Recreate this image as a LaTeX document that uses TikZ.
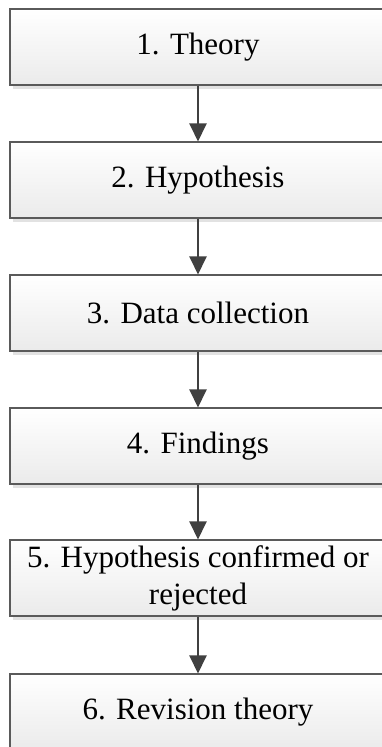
\documentclass[tikz,border=0pt]{standalone}
\usepackage{fontspec}
\setmainfont{Liberation Serif}
\usetikzlibrary{arrows.meta,shadows}
\definecolor{boxline}{HTML}{5A5A5A}
\definecolor{arrowgray}{HTML}{404040}
\definecolor{shadowgray}{HTML}{E2E2E2}
\begin{document}
\begin{tikzpicture}[x=1pt,y=1pt,
  stepbox/.style={rectangle, draw=boxline, line width=1.1pt,
    top color=white, bottom color=black!8,
    minimum width=376pt, minimum height=76pt, inner sep=0pt,
    align=center, font=\fontsize{31}{37}\selectfont,
    drop shadow={shadow xshift=3pt, shadow yshift=-4pt, fill=shadowgray, opacity=1}},
  flow/.style={draw=arrowgray, line width=2.4pt,
    -{Triangle[width=17pt,length=18pt]}}]
  \useasboundingbox (0,0) rectangle (382,-747);
  \clip (0,0) rectangle (382,-747);
  \fill[white] (0,0) rectangle (382,-747);
  \node[stepbox] (b1) at (198,-47)  {1. Theory};
  \node[stepbox] (b2) at (198,-180) {2. Hypothesis};
  \node[stepbox] (b3) at (198,-313) {3. Data collection};
  \node[stepbox] (b4) at (198,-446) {4. Findings};
  \node[stepbox] (b5) at (198,-578) {5. Hypothesis confirmed or\\rejected};
  \node[stepbox] (b6) at (198,-712) {6. Revision theory};
  \draw[flow] (b1.south) -- (b2.north);
  \draw[flow] (b2.south) -- (b3.north);
  \draw[flow] (b3.south) -- (b4.north);
  \draw[flow] (b4.south) -- (b5.north);
  \draw[flow] (b5.south) -- (b6.north);
\end{tikzpicture}
\end{document}
